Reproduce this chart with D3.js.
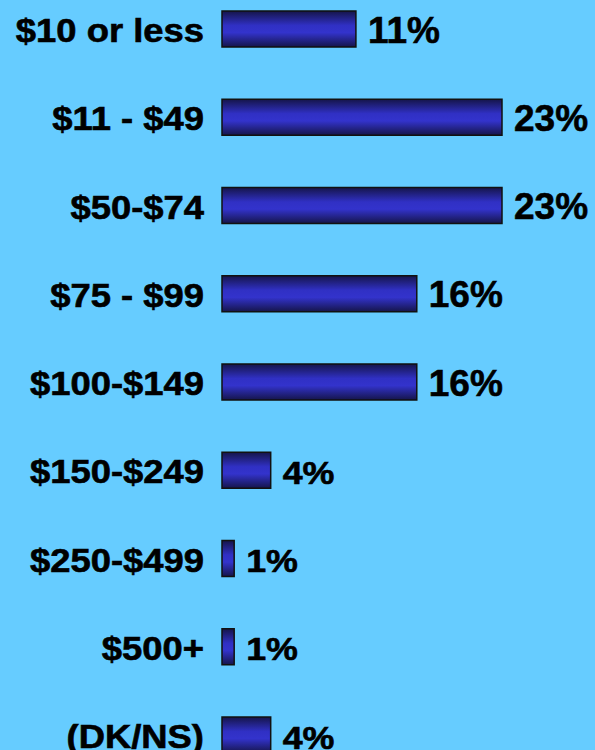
<!DOCTYPE html>
<head>
    <meta charset="utf-8" />
    <script src="https://d3js.org/d3.v7.min.js"></script>
    <style>
        body {
            margin: 0;
            background: #66ccff;
        }
        text {
            font-family: Arial, "Liberation Sans", sans-serif;
            font-weight: bold;
            fill: #000;
            stroke: #000;
            stroke-width: 0.6px;
        }
    </style>
    <title>Spending</title>
</head>

<body>
    <script>
        // amounts spent, share of answers
        var categories = ["$10 or less", "$11 - $49", "$50-$74", "$75 - $99", "$100-$149",
                          "$150-$249", "$250-$499", "$500+", "(DK/NS)"];
        var values = [11, 23, 23, 16, 16, 4, 1, 1, 4];

        var width = 595,
            height = 750;

        var data = categories.map((c, i) => ({cat: c, value: values[i]}));

        var svg = d3.select("body")
            .append("svg")
            .attr("width", width)
            .attr("height", height);

        var defs = svg.append("defs");
        var grad = defs.append("linearGradient")
            .attr("id", "barGrad")
            .attr("x1", 0).attr("y1", 0)
            .attr("x2", 0).attr("y2", 1);
        grad.append("stop").attr("offset", "0%").attr("stop-color", "#15154a");
        grad.append("stop").attr("offset", "40%").attr("stop-color", "#3030c4");
        grad.append("stop").attr("offset", "60%").attr("stop-color", "#3333cc");
        grad.append("stop").attr("offset", "100%").attr("stop-color", "#15154a");

        var x = d3.scaleLinear().domain([0, 23]).range([222, 502]);
        var y = d3.scalePoint().domain(categories).range([11, 717]);
        var barH = 36;

        var rows = svg.selectAll("g.row")
            .data(data)
            .join("g")
            .attr("class", "row");

        rows.append("rect")
            .attr("x", x(0))
            .attr("y", d => y(d.cat))
            .attr("width", d => x(d.value) - x(0))
            .attr("height", barH)
            .attr("fill", "url(#barGrad)")
            .attr("stroke", "#111")
            .attr("stroke-width", 1.5);

        // category labels, a bit stretched sideways like the original
        rows.append("text")
            .attr("transform", d => "translate(204," + (y(d.cat) + barH / 2 + 13) + ") scale(1.12,1)")
            .attr("text-anchor", "end")
            .style("font-size", "32.5px")
            .text(d => d.cat);

        // value labels: the two-digit ones are drawn larger
        rows.append("text")
            .attr("transform", d => {
                var s = d.value >= 10 ? 1 : 1.12;
                return "translate(" + (x(d.value) + 12) + "," + (y(d.cat) + barH / 2 + 13.5) + ") scale(" + s + ",1)";
            })
            .style("font-size", d => d.value >= 10 ? "37px" : "32px")
            .text(d => d.value + "%");
    </script>
</body>
